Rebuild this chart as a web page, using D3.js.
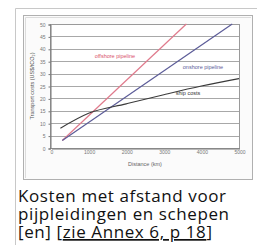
<!DOCTYPE html>
<html>
<head>
<meta charset="utf-8">
<script src="https://cdn.jsdelivr.net/npm/d3@7"></script>
<style>
  html, body { margin: 0; padding: 0; background: #fff; }
  svg { display: block; }
</style>
</head>
<body>
<svg id="chart"></svg>
<script>
// values
const distTicks = [0, 1000, 2000, 3000, 4000, 5000];
const costTicks = [0, 5, 10, 15, 20, 25, 30, 35, 40, 45, 50];

const offshoreDist = [300, 3600];
const offshoreCost = [3, 50];
const onshoreDist = [300, 4820];
const onshoreCost = [3, 50];
const shipDist = [250, 1000, 2000, 3000, 4000, 5000];
const shipCost = [8, 14, 17.8, 21.5, 25, 28];

const captionLines = ['Kosten met afstand voor', 'pijpleidingen en schepen'];

const width = 257, height = 245;
const svg = d3.select('#chart').attr('width', width).attr('height', height);

// thumbnail frame
svg.append('path')
  .attr('d', 'M15.5,245 V8.5 H257')
  .attr('fill', 'none').attr('stroke', '#c8c8c8');

// chart area
svg.append('rect')
  .attr('x', 23.5).attr('y', 15.5).attr('width', 229).attr('height', 164)
  .attr('fill', '#fbfbfb').attr('stroke', '#b0b0b0');
svg.append('path')
  .attr('d', 'M25.5,178 V17.5 H251')
  .attr('fill', 'none').attr('stroke', '#dcdcdc');

const x = d3.scaleLinear().domain([0, 5000]).range([51, 239]);
const y = d3.scaleLinear().domain([0, 50]).range([148, 24]);

// plot area
svg.append('rect')
  .attr('x', 51).attr('y', 24).attr('width', 189).attr('height', 124)
  .attr('fill', '#fff');

svg.append('g').selectAll('line')
  .data(costTicks)
  .join('line')
  .attr('x1', 51).attr('x2', 240)
  .attr('y1', d => Math.round(y(d)) + 0.5).attr('y2', d => Math.round(y(d)) + 0.5)
  .attr('stroke', '#a8a8a8').attr('stroke-width', 1);

svg.append('rect')
  .attr('x', 50.5).attr('y', 24.5).attr('width', 189).attr('height', 124)
  .attr('fill', 'none').attr('stroke', '#9a9a9a');

const yAxis = svg.append('g')
  .attr('transform', 'translate(50.5,0.5)')
  .call(d3.axisLeft(y).tickValues(costTicks).tickSize(2).tickFormat(d3.format('d')));
const xAxis = svg.append('g')
  .attr('transform', 'translate(0.5,148.5)')
  .call(d3.axisBottom(x).tickValues(distTicks).tickSize(0).tickPadding(2).tickFormat(d3.format('d')));

[yAxis, xAxis].forEach(g => {
  g.select('.domain').attr('stroke', '#777');
  g.selectAll('.tick line').attr('stroke', '#777');
  g.selectAll('text')
    .attr('font-family', 'Arial, "Liberation Sans", sans-serif')
    .attr('font-size', 5).attr('fill', '#777');
});

// series
const line = d3.line().x(d => x(d[0])).y(d => y(d[1]));

svg.append('path')
  .datum(d3.zip(offshoreDist, offshoreCost))
  .attr('d', line).attr('fill', 'none')
  .attr('stroke', '#e07a8c').attr('stroke-width', 1.2);

svg.append('path')
  .datum(d3.zip(onshoreDist, onshoreCost))
  .attr('d', line).attr('fill', 'none')
  .attr('stroke', '#5c5c98').attr('stroke-width', 1.2);

svg.append('path')
  .datum(d3.zip(shipDist, shipCost))
  .attr('d', line.curve(d3.curveMonotoneX)).attr('fill', 'none')
  .attr('stroke', '#3a3a3a').attr('stroke-width', 1.1);

// series labels
const lbl = (t, cx, cy, col) => svg.append('text')
  .attr('x', cx).attr('y', cy).attr('text-anchor', 'middle')
  .attr('font-family', 'Arial, "Liberation Sans", sans-serif')
  .attr('font-size', 5.5).attr('fill', col).text(t);
lbl('offshore pipeline', 115, 58, '#d9506a');
lbl('onshore pipeline', 203, 69, '#5c5c98');
lbl('ship costs', 188, 95, '#333');

// axis titles
svg.append('text')
  .attr('transform', 'translate(34,86) rotate(-90)')
  .attr('text-anchor', 'middle')
  .attr('font-family', 'Arial, "Liberation Sans", sans-serif')
  .attr('font-size', 5.5).attr('fill', '#555')
  .text('Transport costs (US$/tCO\u2082)');
svg.append('text')
  .attr('x', 145).attr('y', 166).attr('text-anchor', 'middle')
  .attr('font-family', 'Arial, "Liberation Sans", sans-serif')
  .attr('font-size', 5.5).attr('fill', '#666')
  .text('Distance (km)');

// caption
const cap = svg.append('text')
  .attr('font-family', '"Open Sans", sans-serif')
  .attr('font-size', 17).attr('letter-spacing', 0.6).attr('fill', '#111');
captionLines.forEach((t, i) => {
  cap.append('tspan').attr('x', 18).attr('y', 202 + i * 18).text(t);
});
const last = cap.append('tspan').attr('x', 18).attr('y', 238);
last.append('tspan').text('[en] [');
last.append('tspan').attr('text-decoration', 'underline').text('zie Annex 6, p 18');
last.append('tspan').text(']');
</script>
</body>
</html>
